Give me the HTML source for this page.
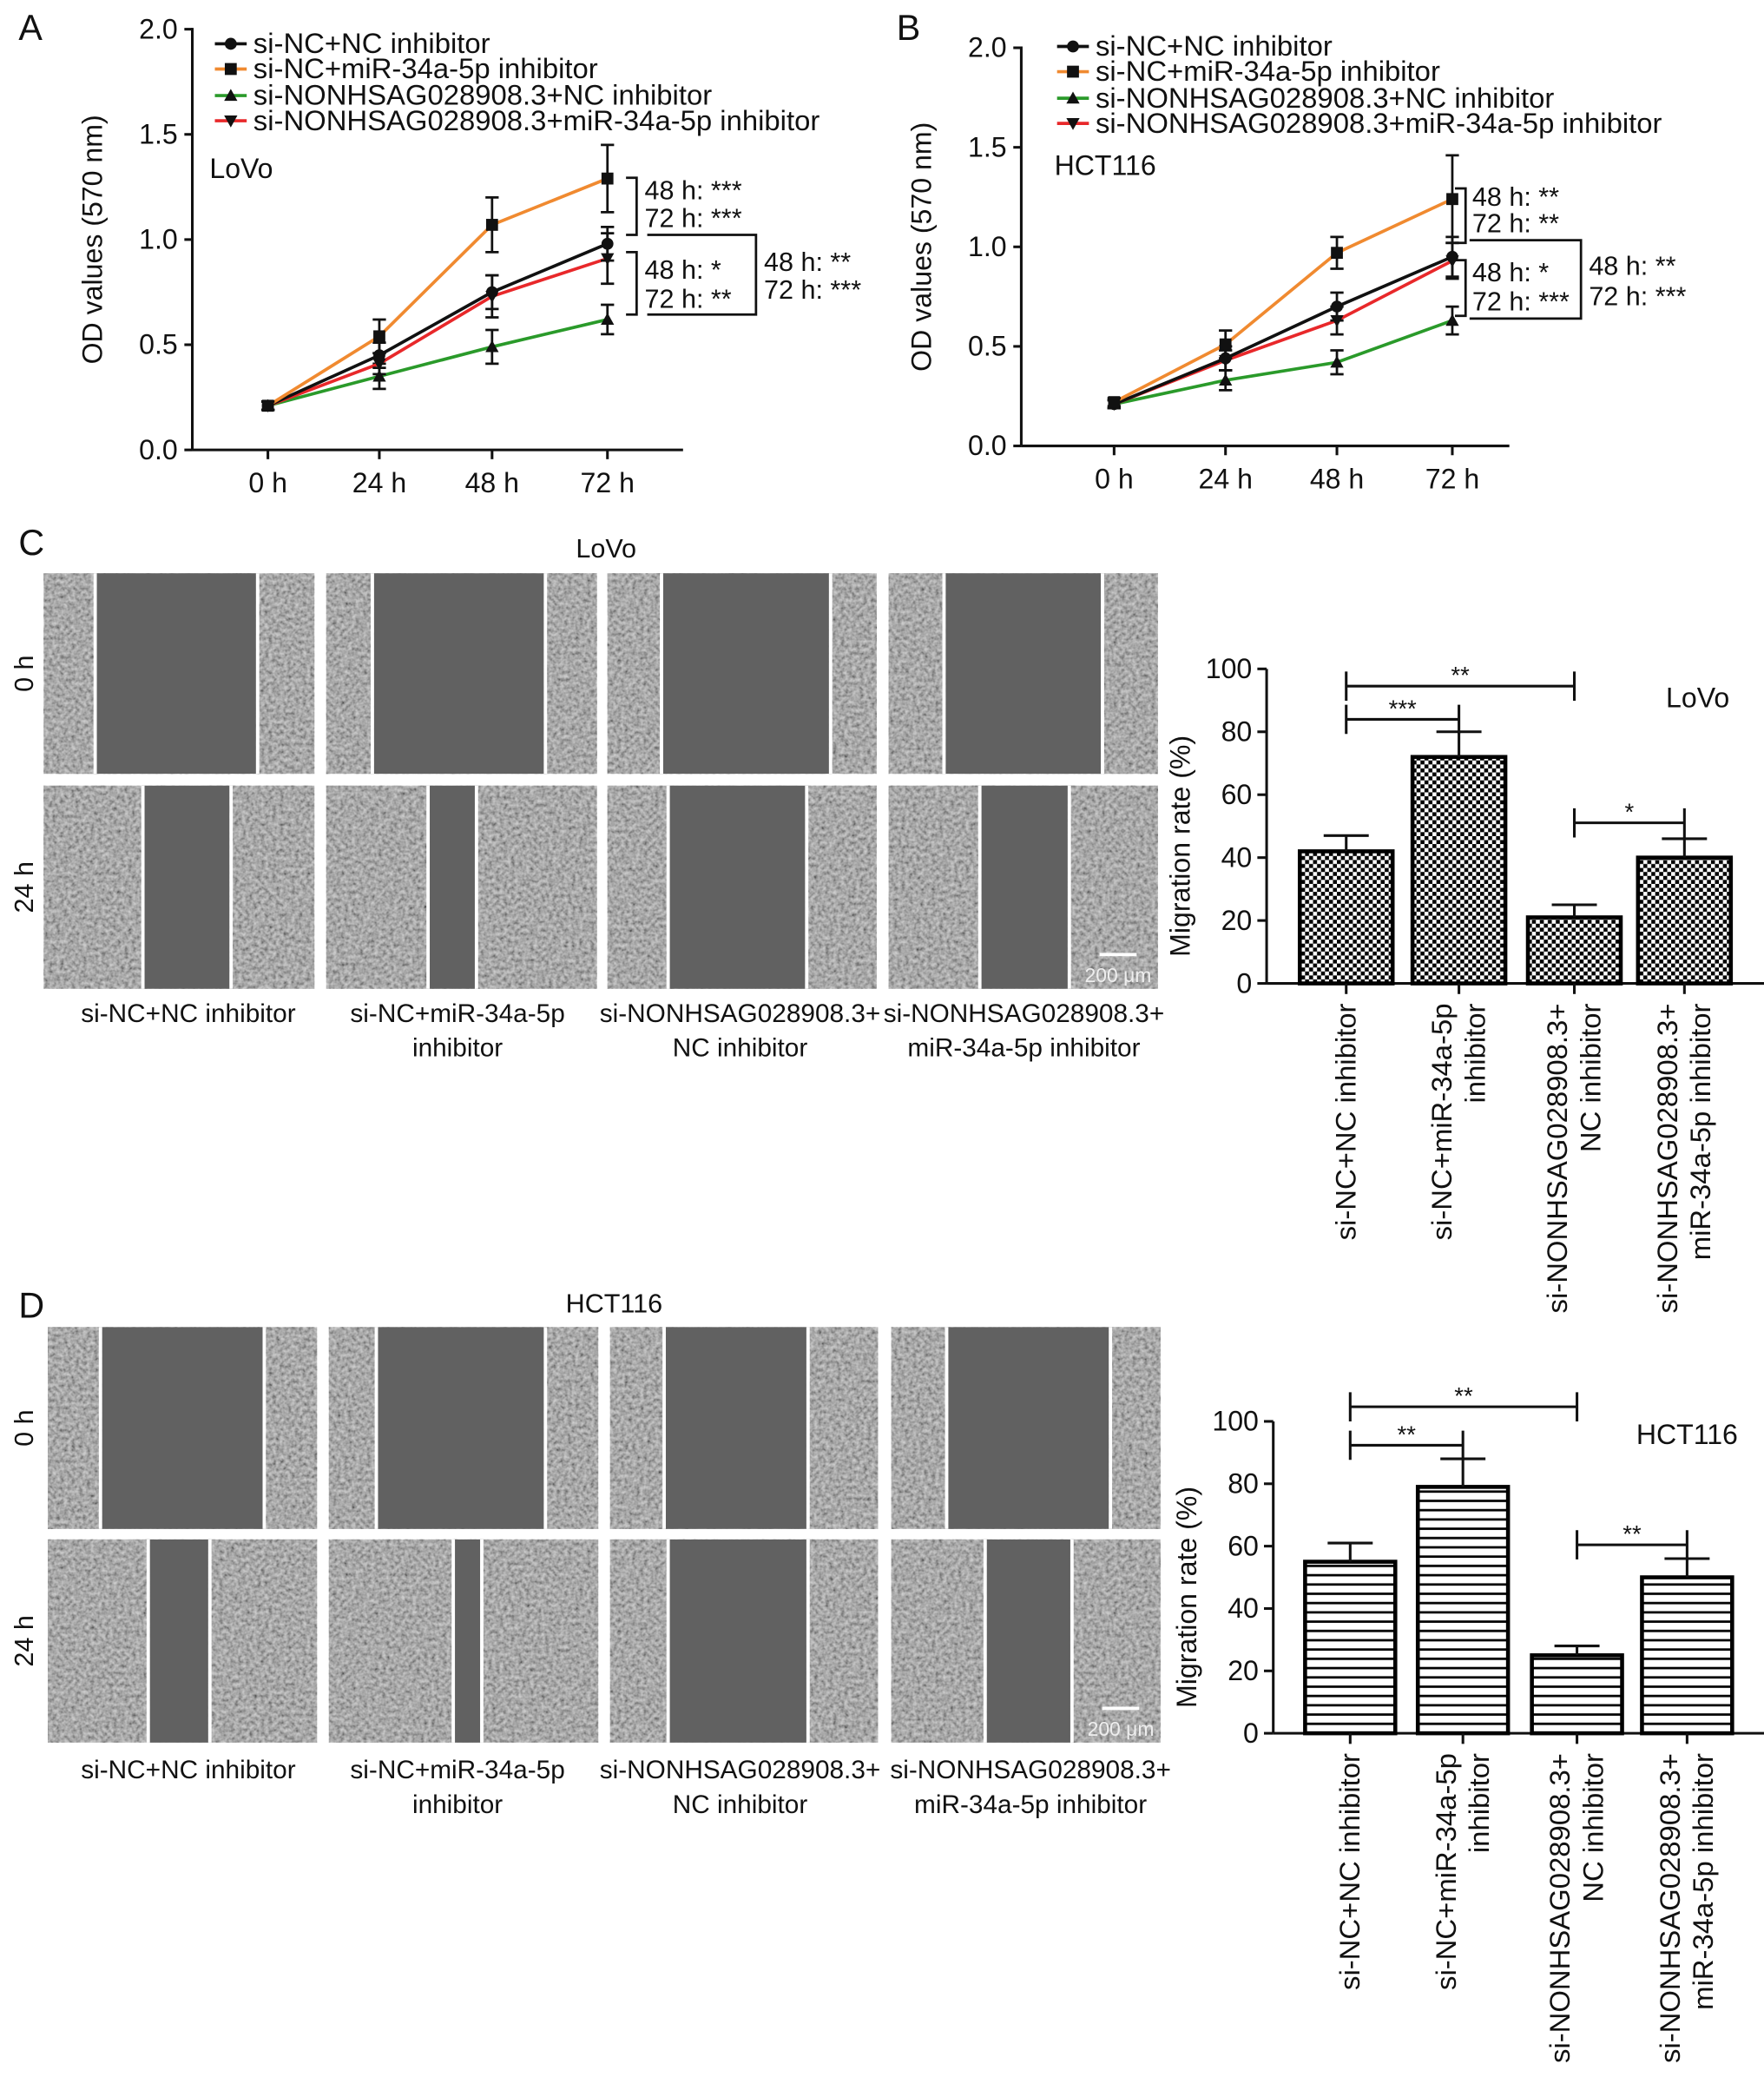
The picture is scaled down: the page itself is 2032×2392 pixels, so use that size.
<!DOCTYPE html>
<html><head><meta charset="utf-8"><style>
html,body{margin:0;padding:0;background:#fff}
svg{display:block}
text{font-family:"Liberation Sans",Arial,sans-serif;fill:#111}
</style></head><body>
<svg id="fig" width="2032" height="2392" viewBox="0 0 1330 1565" preserveAspectRatio="none" xmlns="http://www.w3.org/2000/svg">
<defs>
<pattern id="checker" width="6" height="6" patternUnits="userSpaceOnUse">
<rect width="6" height="6" fill="#fff"/><rect width="3" height="3" fill="#000"/><rect x="3" y="3" width="3" height="3" fill="#000"/>
</pattern>
<pattern id="stripes" width="6" height="7" patternUnits="userSpaceOnUse">
<rect width="6" height="7" fill="#fff"/><rect y="3" width="6" height="1.8" fill="#000"/>
</pattern>
<filter id="tex" x="0" y="0" width="100%" height="100%">
<feTurbulence type="fractalNoise" baseFrequency="0.35" numOctaves="2" seed="5" result="n"/>
<feColorMatrix in="n" type="matrix" values="1.3 0 0 0 -0.1  1.3 0 0 0 -0.1  1.3 0 0 0 -0.1  0 0 0 0 1"/>
</filter>
</defs>
<g id="root"></g>
</svg>
<script>
// ---------- Panel A / B data ----------
const timeLabels = ["0 h","24 h","48 h","72 h"];
const seriesNames = ["si-NC+NC inhibitor","si-NC+miR-34a-5p inhibitor","si-NONHSAG028908.3+NC inhibitor","si-NONHSAG028908.3+miR-34a-5p inhibitor"];
const seriesColors = ["#111111","#f08a30","#2a9a2a","#e8282a"];
const odTicks = [0.0,0.5,1.0,1.5,2.0];
const lovoBlack = [0.21,0.45,0.75,0.98];
const lovoOrange = [0.21,0.54,1.07,1.29];
const lovoGreen = [0.21,0.35,0.49,0.62];
const lovoRed = [0.21,0.41,0.73,0.91];
const lovoBlackErr = [0.02,0.06,0.08,0.08];
const lovoOrangeErr = [0.02,0.08,0.13,0.16];
const lovoGreenErr = [0.02,0.06,0.08,0.07];
const lovoRedErr = [0.02,0.05,0.10,0.12];
const hctBlack = [0.21,0.44,0.70,0.95];
const hctOrange = [0.22,0.51,0.97,1.24];
const hctGreen = [0.21,0.33,0.42,0.63];
const hctRed = [0.21,0.43,0.63,0.93];
const hctBlackErr = [0.02,0.06,0.07,0.10];
const hctOrangeErr = [0.02,0.07,0.08,0.22];
const hctGreenErr = [0.02,0.05,0.06,0.07];
const hctRedErr = [0.02,0.05,0.07,0.09];
// ---------- Bar chart data ----------
const barCategories = [["si-NC+NC inhibitor"],["si-NC+miR-34a-5p","inhibitor"],["si-NONHSAG028908.3+","NC inhibitor"],["si-NONHSAG028908.3+","miR-34a-5p inhibitor"]];
const migTicks = [0,20,40,60,80,100];
const lovoMig = [42,72,21,40];
const lovoMigErr = [5,8,4,6];
const hctMig = [55,79,25,50];
const hctMigErr = [6,9,3,6];

const NS="http://www.w3.org/2000/svg";
const root=document.getElementById('root');
function el(tag,attrs,parent){const e=document.createElementNS(NS,tag);for(const k in attrs)e.setAttribute(k,attrs[k]);(parent||root).appendChild(e);return e;}
function txt(s,attrs,parent){const e=el('text',attrs,parent);e.textContent=s;return e;}

function lineChart(cfg){
  const g=el('g',{});
  
  
  const y=v=>cfg.y0-(v/2.0)*(cfg.y0-cfg.y2);
  const x=i=>cfg.xt[i];
  txt(cfg.letter,{x:cfg.lx,y:cfg.ly,'font-size':27},g);
  el('line',{x1:cfg.ax,y1:cfg.y2-1,x2:cfg.ax,y2:cfg.y0,stroke:'#111','stroke-width':2},g);
  el('line',{x1:cfg.ax,y1:cfg.y0,x2:cfg.xend,y2:cfg.y0,stroke:'#111','stroke-width':2},g);
  odTicks.forEach(t=>{
    el('line',{x1:cfg.ax-6,y1:y(t),x2:cfg.ax,y2:y(t),stroke:'#111','stroke-width':2},g);
    const l=txt(t.toFixed(1),{x:cfg.ax-11,y:y(t)+7,'font-size':21,'text-anchor':'end'},g);
    
    
  });
  timeLabels.forEach((t,i)=>{
    el('line',{x1:x(i),y1:cfg.y0,x2:x(i),y2:cfg.y0+7,stroke:'#111','stroke-width':2},g);
    const l=txt(t,{x:x(i),y:cfg.y0+32,'font-size':21,'text-anchor':'middle'},g);
    
    
  });
  const yt=txt('OD values (570 nm)',{x:0,y:0,'font-size':21,'text-anchor':'middle',transform:`translate(${cfg.ax-68},${(cfg.y0+cfg.y2)/2}) rotate(-90)`},g);
  
  
  const cl=txt(cfg.cell,{x:cfg.cellx,y:cfg.celly,'font-size':21},g);
  
  
  const order=[2,3,0,1];
  order.forEach(s=>{
    const vals=cfg.series[s], errs=cfg.errs[s], c=seriesColors[s];
    const sg=el('g',{},g);
    
    
    el('polyline',{points:vals.map((v,i)=>x(i)+','+y(v)).join(' '),fill:'none',stroke:c,'stroke-width':2.4},sg);
    vals.forEach((v,i)=>{
      const e=errs[i];
      el('path',{d:`M${x(i)},${y(v+e)}V${y(v-e)}M${x(i)-5},${y(v+e)}h10M${x(i)-5},${y(v-e)}h10`,stroke:'#111','stroke-width':1.8,fill:'none'},sg);
      marker(sg,s,x(i),y(v));
    });
  });
  seriesNames.forEach((n,s)=>{
    const ly=cfg.legY[s];
    const lg=el('g',{},g);
    
    
    el('line',{x1:cfg.legX,y1:ly,x2:cfg.legX+24,y2:ly,stroke:seriesColors[s],'stroke-width':2.4},lg);
    marker(lg,s,cfg.legX+12,ly);
    txt(n,{x:cfg.legX+29,y:ly+7,'font-size':21.5},lg);
  });
  const br=el('g',{},g);
  
  
  cfg.brackets.forEach(b=>{
    el('path',{d:`M${b.x1},${b.ya}H${b.x2}V${b.yb}H${b.x1}`,fill:'none',stroke:'#111','stroke-width':1.8},br);
    txt(b.t1,{x:b.tx,y:b.t1y,'font-size':20},br);
    txt(b.t2,{x:b.tx,y:b.t2y,'font-size':20},br);
  });
}
function marker(g,s,cx,cy){
  if(s===0) el('circle',{cx,cy,r:4.5,fill:'#111'},g);
  else if(s===1) el('rect',{x:cx-4.5,y:cy-4.5,width:9,height:9,fill:'#111'},g);
  else if(s===2) el('path',{d:`M${cx},${cy-5}L${cx+5},${cy+4}L${cx-5},${cy+4}Z`,fill:'#111'},g);
  else el('path',{d:`M${cx},${cy+5}L${cx+5},${cy-4}L${cx-5},${cy-4}Z`,fill:'#111'},g);
}
lineChart({name:'chart-a-lovo-od',letter:'A',lx:14,ly:30,ax:145,y0:339,y2:22,xend:515,xt:[202,286,371,458],
  series:[lovoBlack,lovoOrange,lovoGreen,lovoRed],errs:[lovoBlackErr,lovoOrangeErr,lovoGreenErr,lovoRedErr],
  cell:'LoVo',cellx:158,celly:134,legX:162,legY:[33,52,72,91],
  brackets:[{x1:472,x2:480,ya:134,yb:177,tx:486,t1:'48 h: ***',t1y:150,t2:'72 h: ***',t2y:171},
            {x1:472,x2:480,ya:190,yb:237,tx:486,t1:'48 h: *',t1y:210,t2:'72 h: **',t2y:232},
            {x1:488,x2:570,ya:177,yb:237,tx:576,t1:'48 h: **',t1y:204,t2:'72 h: ***',t2y:225}]});
lineChart({name:'chart-b-hct116-od',letter:'B',lx:676,ly:30,ax:770,y0:336,y2:36,xend:1138,xt:[840,924,1008,1095],
  series:[hctBlack,hctOrange,hctGreen,hctRed],errs:[hctBlackErr,hctOrangeErr,hctGreenErr,hctRedErr],
  cell:'HCT116',cellx:795,celly:132,legX:797,legY:[35,54,74,93],
  brackets:[{x1:1097,x2:1105,ya:142,yb:183,tx:1110,t1:'48 h: **',t1y:155,t2:'72 h: **',t2y:175},
            {x1:1097,x2:1105,ya:196,yb:238,tx:1110,t1:'48 h: *',t1y:212,t2:'72 h: ***',t2y:234},
            {x1:1108,x2:1192,ya:181,yb:240,tx:1198,t1:'48 h: **',t1y:207,t2:'72 h: ***',t2y:230}]});

// ---------- Scratch images ----------
function scratchBlock(cfg){
  const g=el('g',{});
  
  
  txt(cfg.letter,{x:14,y:cfg.ly,'font-size':27},g);
  txt(cfg.title,{x:cfg.titleX,y:cfg.titleY,'font-size':20,'text-anchor':'middle'},g);
  cfg.rows.forEach((r,ri)=>{
    const rl=txt(ri===0?'0 h':'24 h',{x:0,y:0,'font-size':20,'text-anchor':'middle',transform:`translate(25,${(r.y0+r.y1)/2}) rotate(-90)`},g);
    
    
    cfg.cols.forEach((c,ci)=>{
      const pg=el('g',{},g);
      
      
      const w=c[1]-c[0],h=r.y1-r.y0;
      el('rect',{x:c[0],y:r.y0,width:w,height:h,fill:'#808080'},pg);
      el('rect',{x:c[0],y:r.y0,width:w,height:h,fill:'#888',filter:'url(#tex)',opacity:0.6},pg);
      const gp=r.gaps[ci];
      el('rect',{x:gp[0],y:r.y0,width:gp[1]-gp[0],height:h,fill:'#616161'},pg);
      el('rect',{x:gp[0]-2.5,y:r.y0,width:2.5,height:h,fill:'#fff'},pg);
      el('rect',{x:gp[1],y:r.y0,width:2.5,height:h,fill:'#fff'},pg);
    });
  });
  const last=cfg.cols[3], r=cfg.rows[1];
  el('rect',{x:last[1]-44,y:r.y1-27,width:28,height:2.5,fill:'#fff'},g);
  txt('200 μm',{x:last[1]-30,y:r.y1-5,'font-size':15,'text-anchor':'middle',style:'fill:#eee'},g);
  cfg.labels.forEach((l,i)=>{
    l.forEach((line,j)=>{
      const t=txt(line,{x:cfg.labelX[i],y:cfg.labelY+26*j,'font-size':19.5,'text-anchor':'middle'},g);
      
      
    });
  });
}
const colLabels=[["si-NC+NC inhibitor"],["si-NC+miR-34a-5p","inhibitor"],["si-NONHSAG028908.3+","NC inhibitor"],["si-NONHSAG028908.3+","miR-34a-5p inhibitor"]];
scratchBlock({name:'panel-c-lovo-images',letter:'C',ly:418,title:'LoVo',titleX:457,titleY:420,
  cols:[[33,237],[246,450],[458,661],[670,873]],
  rows:[{y0:432,y1:583,gaps:[[73,193],[282,410],[500,625],[713,830]]},
        {y0:592,y1:745,gaps:[[109,173],[324,358],[505,607],[740,805]]}],
  labels:colLabels,labelX:[142,345,558,772],labelY:770});
scratchBlock({name:'panel-d-hct116-images',letter:'D',ly:993,title:'HCT116',titleX:463,titleY:989,
  cols:[[36,239],[248,451],[460,662],[672,875]],
  rows:[{y0:1000,y1:1152,gaps:[[77,198],[285,410],[502,608],[715,836]]},
        {y0:1160,y1:1313,gaps:[[113,157],[343,362],[505,608],[744,807]]}],
  labels:colLabels,labelX:[142,345,558,777],labelY:1340});

// ---------- Bar charts ----------
function barChart(cfg){
  const g=el('g',{});
  
  
  const y=v=>cfg.y0-(v/100)*(cfg.y0-cfg.y100);
  el('line',{x1:cfg.ax,y1:cfg.y100,x2:cfg.ax,y2:cfg.y0,stroke:'#111','stroke-width':2},g);
  el('line',{x1:cfg.ax,y1:cfg.y0,x2:cfg.xend,y2:cfg.y0,stroke:'#111','stroke-width':2},g);
  migTicks.forEach(t=>{
    el('line',{x1:cfg.ax-7,y1:y(t),x2:cfg.ax,y2:y(t),stroke:'#111','stroke-width':2},g);
    const l=txt(String(t),{x:cfg.ax-11,y:y(t)+7,'font-size':21,'text-anchor':'end'},g);
    
    
  });
  const yt=txt('Migration rate (%)',{x:0,y:0,'font-size':21,'text-anchor':'middle',transform:`translate(${cfg.ax-58},${(cfg.y0+cfg.y100)/2+15}) rotate(-90)`},g);
  
  
  txt(cfg.cell,{x:cfg.cellx,y:cfg.celly,'font-size':21,'text-anchor':'middle'},g);
  cfg.vals.forEach((v,i)=>{
    const cx=cfg.cx[i],w=cfg.bw;
    const b=el('rect',{x:cx-w/2,y:y(v),width:w,height:cfg.y0-y(v),fill:`url(#${cfg.pat})`,stroke:'#000','stroke-width':3},g);
    
    
    const e=cfg.errs[i];
    el('path',{d:`M${cx},${y(v)}V${y(v+e)}M${cx-17},${y(v+e)}h34`,stroke:'#111','stroke-width':2,fill:'none'},g);
    el('line',{x1:cx,y1:cfg.y0,x2:cx,y2:cfg.y0+8,stroke:'#111','stroke-width':2},g);
    barCategories[i].forEach((line,j)=>{
      const n=barCategories[i].length;
      const off=(j-(n-1)/2)*25+7;
      const t=txt(line,{x:0,y:0,'font-size':21.5,'text-anchor':'end',transform:`translate(${cx+off},${cfg.y0+15}) rotate(-90)`},g);
      
      
    });
  });
  cfg.sig.forEach(s=>{
    const sg=el('g',{},g);
    
    
    const x1=cfg.cx[s.a],x2=cfg.cx[s.b],yy=s.y;
    el('path',{d:`M${x1},${yy-11}V${yy+11}M${x1},${yy}H${x2}M${x2},${yy-11}V${yy+11}`,stroke:'#111','stroke-width':2,fill:'none'},sg);
    txt(s.t,{x:(x1+x2)/2,y:yy-2,'font-size':18,'text-anchor':'middle'},sg);
  });
}
barChart({name:'chart-c-lovo-migration',ax:955,y0:741,y100:504,xend:1330,cx:[1015,1100,1187,1270],bw:70,pat:'checker',
  vals:lovoMig,errs:lovoMigErr,cell:'LoVo',cellx:1280,celly:533,
  sig:[{a:0,b:2,y:517,t:'**'},{a:0,b:1,y:542,t:'***'},{a:2,b:3,y:620,t:'*'}]});
barChart({name:'chart-d-hct116-migration',ax:960,y0:1306,y100:1071,xend:1330,cx:[1018,1103,1189,1272],bw:68,pat:'stripes',
  vals:hctMig,errs:hctMigErr,cell:'HCT116',cellx:1272,celly:1088,
  sig:[{a:0,b:2,y:1060,t:'**'},{a:0,b:1,y:1089,t:'**'},{a:2,b:3,y:1164,t:'**'}]});
</script>
</body></html>
